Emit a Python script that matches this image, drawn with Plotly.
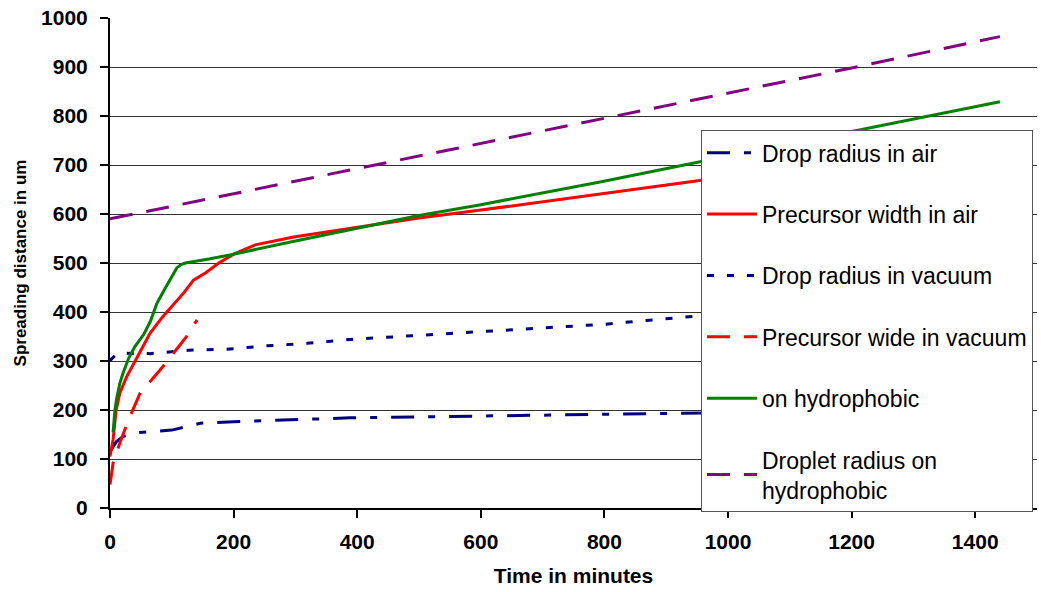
import plotly.graph_objects as go

# ---- data ----
air_drop_x = [0, 5, 10, 20, 37, 60, 76, 100, 124, 146, 200, 308, 389, 500, 600, 700, 800, 960, 1200, 1440]
air_drop_y = [115, 125, 135, 145, 153, 155, 156, 159, 166, 173, 176, 180, 184, 186, 188, 190, 192, 194, 197, 200]

air_prec_x = [0, 5, 10, 16, 27, 45, 65, 85, 108, 120, 135, 155, 176, 200, 235, 297, 390, 500, 600, 795, 957, 1200, 1440]
air_prec_y = [105, 140, 200, 235, 268, 310, 357, 390, 424, 440, 465, 480, 500, 518, 537, 553, 571, 592, 608, 642, 669, 705, 740]

vac_drop_x = [0, 3, 13, 65, 127, 189, 254, 319, 389, 500, 600, 681, 800, 952, 1200, 1440]
vac_drop_y = [300, 305, 316, 315, 322, 324, 331, 336, 344, 352, 360, 365, 375, 392, 405, 415]

vac_prec_x = [0, 5, 16, 30, 49, 60, 80, 111, 124, 141]
vac_prec_y = [48, 92, 133, 180, 235, 251, 280, 329, 350, 384]

hyd_x = [5, 8, 11, 16, 21, 30, 40, 55, 65, 76, 90, 108, 115, 122, 160, 200, 300, 400, 500, 600, 795, 957, 1189, 1440]
hyd_y = [155, 200, 225, 255, 275, 305, 329, 355, 380, 418, 450, 490, 497, 500, 508, 518, 545, 571, 597, 619, 666, 707, 765, 829]

hyd_drop_x = [0, 389, 800, 1200, 1440]
hyd_drop_y = [590, 690, 795, 898, 962]

names = ["Drop radius in air", "Precursor width in air", "Drop radius in vacuum",
         "Precursor wide in vacuum", "on hydrophobic", "Droplet radius on<br>hydrophobic"]

x_ticks = [0, 200, 400, 600, 800, 1000, 1200, 1400]

series = [
    (air_drop_x, air_drop_y, "#000080", "23px,14px,7px,14px"),
    (air_prec_x, air_prec_y, "#FF0000", "solid"),
    (vac_drop_x, vac_drop_y, "#000080", "7px,13px"),
    (vac_prec_x, vac_prec_y, "#FF0000", "23px,14px"),
    (hyd_x, hyd_y, "#008000", "solid"),
    (hyd_drop_x, hyd_drop_y, "#800080", "23px,14px"),
]

FONT = "Liberation Sans, Arial, sans-serif"

fig = go.Figure()
for i, ((xs, ys, col, dash), nm) in enumerate(zip(series, names)):
    fig.add_trace(go.Scatter(
        x=xs, y=ys, mode="lines", name=nm, legendgroup=f"g{i}",
        line=dict(color=col, width=3, dash=dash),
    ))

fig.update_layout(
    width=1041, height=592,
    margin=dict(l=110, r=4, t=18, b=84),
    paper_bgcolor="white", plot_bgcolor="white",
    font=dict(family=FONT, color="black"),
    showlegend=True,
    legend=dict(
        x=0.6375, xanchor="left", y=0.771, yanchor="top",
        bgcolor="white", bordercolor="#555555", borderwidth=1,
        font=dict(family=FONT, size=23, color="black"),
        itemwidth=50, tracegroupgap=28.5, traceorder="grouped",
    ),
    xaxis=dict(
        range=[0, 1500], tickvals=x_ticks, ticktext=[str(v) for v in x_ticks],
        showgrid=False, zeroline=False,
        showline=True, linecolor="black", linewidth=2,
        ticks="outside", ticklen=8, tickwidth=2, tickcolor="black",
        tickfont=dict(family=FONT, size=21, weight="bold"),
        ticklabelstandoff=6,
        title=dict(text="Time in minutes", font=dict(family=FONT, size=21, weight="bold"), standoff=16),
    ),
    yaxis=dict(
        range=[0, 1000], dtick=100,
        showgrid=True, gridcolor="#333333", gridwidth=1, zeroline=False,
        showline=True, linecolor="black", linewidth=2,
        ticks="outside", ticklen=8, tickwidth=2, tickcolor="black",
        tickfont=dict(family=FONT, size=21, weight="bold"),
        ticklabelstandoff=8,
        title=dict(text="Spreading distance in um", font=dict(family=FONT, size=17, weight="bold"), standoff=10),
    ),
)

fig.write_html("out.html")
